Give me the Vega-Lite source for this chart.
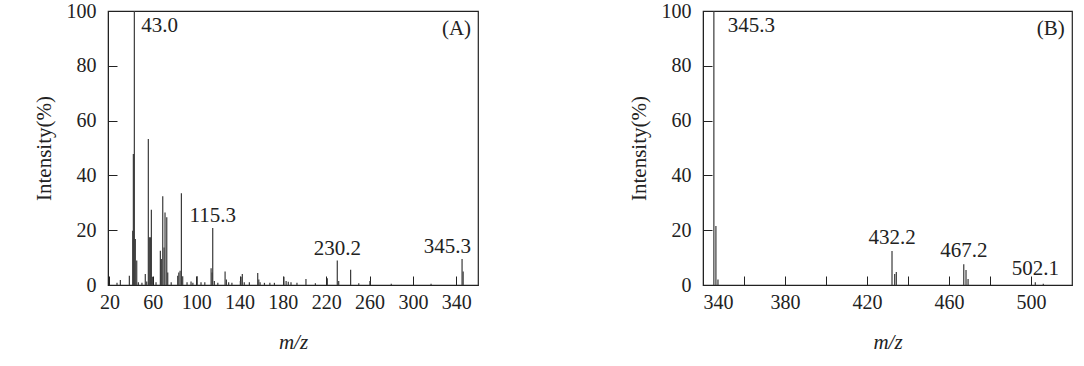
{
  "$schema": "https://vega.github.io/schema/vega-lite/v6.json",
  "padding": {"left": 32, "top": 0, "right": 0, "bottom": 0},
  "background": "white",
  "datasets": {
    "A": [
      {"mz": 27, "intensity": 0.8}, {"mz": 30.1, "intensity": 1.8}, {"mz": 38.4, "intensity": 3.4},
      {"mz": 41.5, "intensity": 19.8}, {"mz": 42.1, "intensity": 47.8}, {"mz": 43.0, "intensity": 100},
      {"mz": 43.9, "intensity": 16.8}, {"mz": 45.2, "intensity": 8.9}, {"mz": 46.7, "intensity": 1.0},
      {"mz": 50, "intensity": 0.8}, {"mz": 53.1, "intensity": 4.0}, {"mz": 54.4, "intensity": 1.3},
      {"mz": 55.9, "intensity": 53.3}, {"mz": 56.8, "intensity": 17.4}, {"mz": 57.8, "intensity": 17.4},
      {"mz": 58.7, "intensity": 27.5}, {"mz": 59.6, "intensity": 3.0}, {"mz": 63, "intensity": 1.0},
      {"mz": 67.0, "intensity": 12.5}, {"mz": 67.9, "intensity": 9.5}, {"mz": 69.2, "intensity": 32.4},
      {"mz": 70.4, "intensity": 13.7}, {"mz": 71.3, "intensity": 26.5}, {"mz": 72.9, "intensity": 24.7},
      {"mz": 73.8, "intensity": 4.6}, {"mz": 77, "intensity": 1.0}, {"mz": 83.0, "intensity": 3.4},
      {"mz": 84.0, "intensity": 4.6}, {"mz": 85.2, "intensity": 5.2}, {"mz": 86.4, "intensity": 33.5},
      {"mz": 87.6, "intensity": 3.2}, {"mz": 91.6, "intensity": 1.0}, {"mz": 95.3, "intensity": 1.3},
      {"mz": 97, "intensity": 0.8}, {"mz": 101, "intensity": 3.2}, {"mz": 104.5, "intensity": 1.0},
      {"mz": 108, "intensity": 1.0}, {"mz": 113.8, "intensity": 6.1}, {"mz": 114.7, "intensity": 4.6},
      {"mz": 115.3, "intensity": 20.8}, {"mz": 116.8, "intensity": 1.5}, {"mz": 120, "intensity": 0.8},
      {"mz": 126.7, "intensity": 4.9}, {"mz": 127.9, "intensity": 2.0}, {"mz": 130, "intensity": 1.0},
      {"mz": 133, "intensity": 0.8}, {"mz": 140.8, "intensity": 1.5}, {"mz": 141.4, "intensity": 3.0},
      {"mz": 142.6, "intensity": 4.0}, {"mz": 144.4, "intensity": 1.0}, {"mz": 149.1, "intensity": 1.0},
      {"mz": 156.8, "intensity": 4.4}, {"mz": 157.8, "intensity": 2.0}, {"mz": 159, "intensity": 1.0},
      {"mz": 163, "intensity": 0.8}, {"mz": 168, "intensity": 0.8}, {"mz": 172.2, "intensity": 0.8},
      {"mz": 181, "intensity": 3.0}, {"mz": 183, "intensity": 1.5}, {"mz": 185, "intensity": 1.2},
      {"mz": 187.5, "intensity": 1.0}, {"mz": 193, "intensity": 0.8}, {"mz": 201.3, "intensity": 2.2},
      {"mz": 210, "intensity": 0.6}, {"mz": 221, "intensity": 2.5}, {"mz": 230.2, "intensity": 8.9},
      {"mz": 231.5, "intensity": 1.5}, {"mz": 242.5, "intensity": 5.6}, {"mz": 250, "intensity": 0.6},
      {"mz": 260.3, "intensity": 1.5}, {"mz": 280, "intensity": 0.5}, {"mz": 316.7, "intensity": 0.5},
      {"mz": 345.3, "intensity": 9.5}, {"mz": 346.3, "intensity": 4.9}
    ],
    "Alab": [
      {"mz": 115.3, "intensity": 20.8, "label": "115.3"},
      {"mz": 230.2, "intensity": 8.9, "label": "230.2"}
    ],
    "B": [
      {"mz": 345.3, "intensity": 100}, {"mz": 346.3, "intensity": 21.5}, {"mz": 347.3, "intensity": 2.0},
      {"mz": 432.2, "intensity": 12.4}, {"mz": 433.5, "intensity": 4.0}, {"mz": 434.3, "intensity": 4.7},
      {"mz": 467.2, "intensity": 7.6}, {"mz": 468.3, "intensity": 5.5}, {"mz": 469.3, "intensity": 2.2},
      {"mz": 502.1, "intensity": 1.0}, {"mz": 506, "intensity": 0.5}
    ],
    "Blab": [
      {"mz": 432.2, "intensity": 12.4, "label": "432.2"},
      {"mz": 467.2, "intensity": 7.6, "label": "467.2"},
      {"mz": 502.1, "intensity": 1.0, "label": "502.1"}
    ],
    "one": [{}]
  },
  "hconcat": [
    {
      "width": 370,
      "height": 274,
      "layer": [
        {
          "data": {"name": "A"},
          "mark": {"type": "rule", "stroke": "#3a3a3a", "strokeWidth": 1.2},
          "encoding": {
            "x": {"field": "mz", "type": "quantitative", "scale": {"domain": [18.7, 360], "nice": false, "zero": false},
                  "axis": {"title": "m/z", "titleFontStyle": "italic", "values": [20, 60, 100, 140, 180, 220, 260, 300, 340]}},
            "y": {"field": "intensity", "type": "quantitative", "scale": {"domain": [0, 100], "nice": false},
                  "axis": {"title": "Intensity(%)", "values": [0, 20, 40, 60, 80, 100]}},
            "y2": {"datum": 0}
          }
        },
        {
          "data": {"name": "Alab"},
          "mark": {"type": "text", "align": "center", "baseline": "alphabetic", "dy": -6, "font": "Liberation Serif", "fontSize": 21, "color": "#222"},
          "encoding": {
            "x": {"field": "mz", "type": "quantitative"},
            "y": {"field": "intensity", "type": "quantitative"},
            "text": {"field": "label"}
          }
        },
        {
          "data": {"name": "one"},
          "mark": {"type": "text", "align": "left", "baseline": "middle", "dx": 7, "dy": 15, "font": "Liberation Serif", "fontSize": 21, "color": "#222"},
          "encoding": {"x": {"datum": 43.0}, "y": {"datum": 100}, "text": {"value": "43.0"}}
        },
        {
          "data": {"name": "one"},
          "mark": {"type": "text", "align": "right", "baseline": "alphabetic", "dx": 9, "dy": -6, "font": "Liberation Serif", "fontSize": 21, "color": "#222"},
          "encoding": {"x": {"datum": 345.3}, "y": {"datum": 9.5}, "text": {"value": "345.3"}}
        },
        {
          "data": {"name": "one"},
          "mark": {"type": "text", "align": "right", "baseline": "middle", "font": "Liberation Serif", "fontSize": 21, "color": "#222"},
          "encoding": {"x": {"datum": 353.6}, "y": {"datum": 93.4}, "text": {"value": "(A)"}}
        }
      ]
    },
    {
      "width": 369,
      "height": 274,
      "layer": [
        {
          "data": {"name": "B"},
          "mark": {"type": "rule", "stroke": "#3a3a3a", "strokeWidth": 1.2},
          "encoding": {
            "x": {"field": "mz", "type": "quantitative", "scale": {"domain": [340, 520], "nice": false, "zero": false},
                  "axis": {"title": "m/z", "titleFontStyle": "italic", "values": [340, 360, 380, 400, 420, 440, 460, 480, 500],
                           "labelExpr": "(datum.value - 340) % 40 == 0 ? datum.label : ''"}},
            "y": {"field": "intensity", "type": "quantitative", "scale": {"domain": [0, 100], "nice": false},
                  "axis": {"title": "Intensity(%)", "values": [0, 20, 40, 60, 80, 100]}},
            "y2": {"datum": 0}
          }
        },
        {
          "data": {"name": "Blab"},
          "mark": {"type": "text", "align": "center", "baseline": "alphabetic", "dy": -7, "font": "Liberation Serif", "fontSize": 21, "color": "#222"},
          "encoding": {
            "x": {"field": "mz", "type": "quantitative"},
            "y": {"field": "intensity", "type": "quantitative"},
            "text": {"field": "label"}
          }
        },
        {
          "data": {"name": "one"},
          "mark": {"type": "text", "align": "left", "baseline": "middle", "dx": 14, "dy": 15, "font": "Liberation Serif", "fontSize": 21, "color": "#222"},
          "encoding": {"x": {"datum": 345.3}, "y": {"datum": 100}, "text": {"value": "345.3"}}
        },
        {
          "data": {"name": "one"},
          "mark": {"type": "text", "align": "right", "baseline": "middle", "font": "Liberation Serif", "fontSize": 21, "color": "#222"},
          "encoding": {"x": {"datum": 516.5}, "y": {"datum": 93.4}, "text": {"value": "(B)"}}
        }
      ]
    }
  ],
  "spacing": 148,
  "config": {
    "view": {"stroke": "#222", "strokeWidth": 1.2},
    "axis": {
      "grid": false,
      "domainColor": "#222",
      "tickColor": "#222",
      "tickSize": -9,
      "labelFont": "Liberation Serif",
      "labelFontSize": 20,
      "labelColor": "#222",
      "titleFont": "Liberation Serif",
      "titleFontSize": 21,
      "titleFontWeight": "normal",
      "titleColor": "#222"
    },
    "axisY": {"labelPadding": 21, "titlePadding": 12},
    "axisX": {"labelPadding": 16, "titlePadding": 19}
  }
}
